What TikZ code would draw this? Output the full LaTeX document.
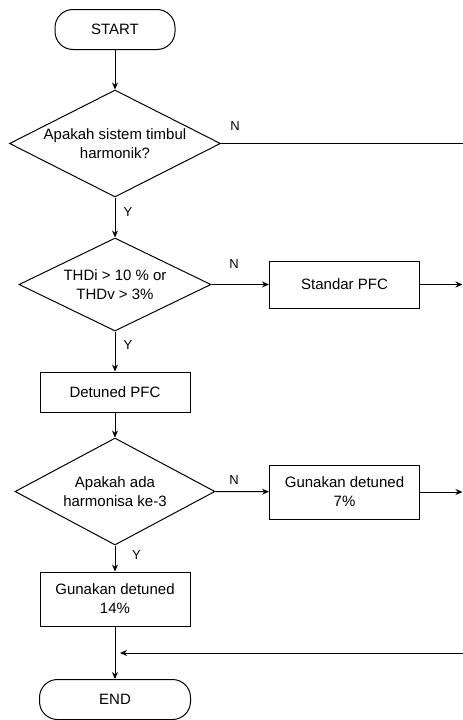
\documentclass[tikz,border=0pt]{standalone}
\usepackage{fontspec}
\setmainfont{Liberation Sans}
\usetikzlibrary{shapes.geometric, arrows.meta, positioning}

\begin{document}
\begin{tikzpicture}[>={Stealth[length=7pt, width=6pt]}, x=1pt, y=-1pt, line width=1pt,
    font=\fontsize{15}{19}\selectfont,
    terminal/.style={draw, rounded corners=18pt, minimum width=#1, minimum height=40pt},
    process/.style={draw, align=center, minimum width=150pt, minimum height=#1},
    decision/.style={draw, diamond, inner sep=0pt, minimum width=#1},
    yn/.style={font=\fontsize{13}{15}\selectfont, inner sep=0pt}]
    \useasboundingbox (0,0) rectangle (463,720);

    % Kolom kiri
    \node[terminal=120pt] (start) at (115,29.5) {START};
    \node[decision=211pt, minimum height=107pt,
          label={[align=center]center:Apakah sistem timbul\\harmonik?}] (cek1) at (115,143.5) {};
    \node[decision=192pt, minimum height=93pt,
          label={[align=center]center:THDi > 10 \% or\\THDv > 3\%}] (cek2) at (115,284.5) {};
    \node[process=40pt] (detuned) at (115,392) {Detuned PFC};
    \node[decision=200pt, minimum height=107pt,
          label={[align=center]center:Apakah ada\\harmonisa ke-3}] (cek3) at (115,491.5) {};
    \node[process=54pt] (det14) at (115,599) {Gunakan detuned\\14\%};
    \node[terminal=151pt] (end) at (115,699.5) {END};

    % Kolom kanan
    \node[process=47pt] (standar) at (344.5,284.5) {Standar PFC};
    \node[process=54pt] (det7) at (344.5,492) {Gunakan detuned\\7\%};

    % Label Y / N
    \node[yn] (n1) at (235,126) {N};
    \node[yn] (n2) at (234,264) {N};
    \node[yn] (n3) at (234,480) {N};
    \node[yn] (y1) at (128,212) {Y};
    \node[yn] (y2) at (128,345) {Y};
    \node[yn] (y3) at (136.5,555) {Y};

    % Jalur balik di tepi kanan
    \coordinate (r1) at (463.3,143.5);
    \coordinate (r2) at (463.3,653);
    \coordinate (m) at (115,653);

    \draw[->] (start) -- (cek1);
    \draw[->] (cek1) -- (cek2);
    \draw[->] (cek2) -- (detuned);
    \draw[->] (detuned) -- (cek3);
    \draw[->] (cek3) -- (det14);
    \draw[->] (det14) -- (end);

    \draw[->] (cek2.east) -- (standar);
    \draw[->] (cek3.east) -- (det7);
    \draw[->, shorten >=0.8pt] (standar) -- (standar -| r1);
    \draw[->, shorten >=0.8pt] (det7) -- (det7 -| r1);

    \draw (cek1.east) -- (r1) -- (r2);
    \draw[->, shorten >=5pt] (r2) -- (m);
\end{tikzpicture}
\end{document}
